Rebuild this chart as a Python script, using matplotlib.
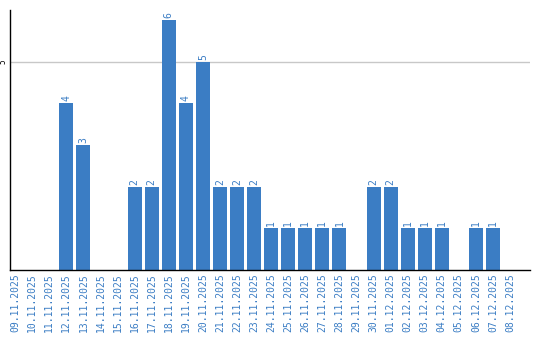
import matplotlib
matplotlib.use("Agg")
import matplotlib.pyplot as plt

dates = ["09.11.2025", "10.11.2025", "11.11.2025", "12.11.2025", "13.11.2025",
         "14.11.2025", "15.11.2025", "16.11.2025", "17.11.2025", "18.11.2025",
         "19.11.2025", "20.11.2025", "21.11.2025", "22.11.2025", "23.11.2025",
         "24.11.2025", "25.11.2025", "26.11.2025", "27.11.2025", "28.11.2025",
         "29.11.2025", "30.11.2025", "01.12.2025", "02.12.2025", "03.12.2025",
         "04.12.2025", "05.12.2025", "06.12.2025", "07.12.2025", "08.12.2025"]
values = [0, 0, 0, 4, 3, 0, 0, 2, 2, 6, 4, 5, 2, 2, 2, 1, 1, 1, 1, 1,
          0, 2, 2, 1, 1, 1, 0, 1, 1, 0]

blue = "#3b7dc4"
fig = plt.figure(figsize=(5.4, 3.4), dpi=100)
ax = fig.add_axes([10/540, 70/340, 520/540, 260/340])
x = list(range(len(dates)))
ax.bar(x, values, width=0.82, color=blue, zorder=2)
for xi, v in zip(x, values):
    if v > 0:
        ax.text(xi, v + 0.05, str(v), rotation=90, ha="center", va="bottom",
                color=blue, fontsize=7, family="DejaVu Sans Mono")
ax.set_xlim(-0.3, 30.17)
ax.set_ylim(0, 6.24)
ax.set_xticks(x)
ax.set_xticklabels(dates, rotation=90, color=blue, fontsize=7, family="DejaVu Sans Mono")
ax.set_yticks([5])
ax.set_yticklabels(["5"], rotation=90, va="center", ha="center", fontsize=5.5,
                   family="DejaVu Sans Mono")
ax.tick_params(axis="y", length=0, pad=5)
ax.tick_params(axis="x", length=0, pad=2)
ax.grid(axis="y", color="#c8c8c8", linewidth=1, zorder=0)
for s in ["top", "right"]:
    ax.spines[s].set_visible(False)
ax.spines["left"].set_color("black")
ax.spines["bottom"].set_color("black")
ax.spines["left"].set_linewidth(1.0)
ax.spines["bottom"].set_linewidth(1.0)
fig.savefig("out.png", dpi=100)
